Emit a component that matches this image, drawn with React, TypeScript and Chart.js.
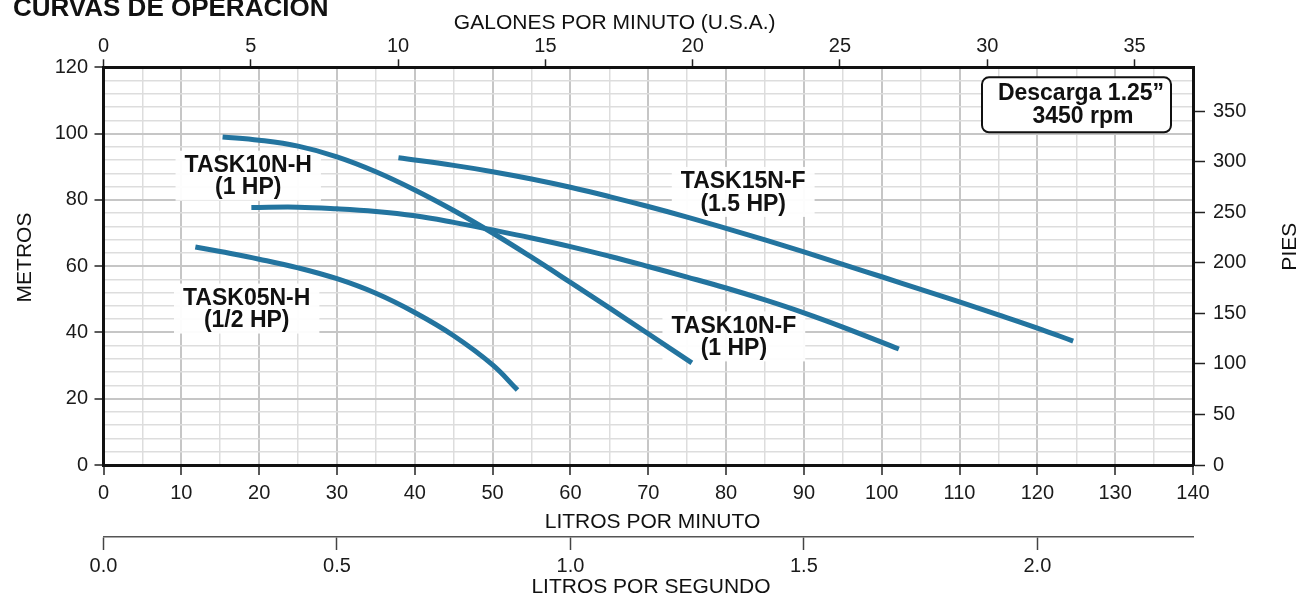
import React, { useEffect, useRef } from 'react';
import { Chart, registerables } from 'chart.js';

Chart.register(...registerables);

const FONT = "'Liberation Sans', Arial, Helvetica, sans-serif";

// Flow in litres per minute, head in metres
const t10hFlow = [15.3, 20, 25, 30, 35, 40, 45, 50, 55, 60, 65, 70, 75.6];
const t10hHead = [99.0, 98.0, 96.2, 93.0, 88.5, 83.0, 76.8, 70.0, 62.7, 55.1, 47.4, 39.6, 30.8];

const t10fFlow = [19, 25, 30, 35, 40, 45, 50, 55, 60, 65, 70, 75, 80, 85, 90, 95, 102.2];
const t10fHead = [77.7, 77.8, 77.3, 76.5, 75.2, 73.2, 70.9, 68.5, 65.9, 63.0, 59.9, 56.7, 53.4, 49.8, 45.9, 41.6, 35.0];

const t15fFlow = [37.9, 45, 50, 55, 60, 65, 70, 75, 80, 85, 90, 96, 100, 105, 110, 115, 120, 124.6];
const t15fHead = [92.7, 90.4, 88.5, 86.3, 83.8, 81.0, 78.0, 74.8, 71.4, 67.9, 64.3, 59.8, 56.8, 53.0, 49.2, 45.3, 41.3, 37.4];

const t05hFlow = [11.8, 15, 20, 25, 30, 35, 40, 45, 50, 53.2];
const t05hHead = [65.8, 64.4, 62.1, 59.5, 56.2, 51.8, 46.0, 39.0, 30.2, 22.6];

// Curve labels (anchored in LPM / metres)
const curveLabels = [
  ['TASK10N-H', '(1 HP)'],
  ['TASK05N-H', '(1/2 HP)'],
  ['TASK15N-F', '(1.5 HP)'],
  ['TASK10N-F', '(1 HP)'],
];
const labelFlow = [18.6, 18.4, 82.2, 81.0];
const labelHead = [87.3, 47.2, 82.4, 38.8];

const infoLines = ['Descarga 1.25\u201D', '3450 rpm'];
const chartTitle = 'CURVAS DE OPERACIÓN';
const titleTop = 'GALONES POR MINUTO (U.S.A.)';
const titleLeft = 'METROS';
const titleRight = 'PIES';
const titleBottom1 = 'LITROS POR MINUTO';
const titleBottom2 = 'LITROS POR SEGUNDO';

const LPM_MAX = 140;
const M_MAX = 120;
const LPM_PER_GPM = 3.785411784;
const FT_PER_M = 3.28084;
const LPM_PER_LPS = 60;

const LINE_COLOR = '#23749f';

const pts = (xs: number[], ys: number[]) => xs.map((x, i) => ({ x, y: ys[i] }));

const tickFont = { family: FONT, size: 20 };
const major = (ctx: any, step: number) =>
  ctx.tick && Math.abs(ctx.tick.value / step - Math.round(ctx.tick.value / step)) < 1e-6;

const textPlugin = {
  id: 'textPlugin',
  beforeDatasetsDraw(chart: any) {
    const { ctx } = chart;
    const x = chart.scales.x;
    const y = chart.scales.y;
    ctx.save();
    ctx.font = `bold 23px ${FONT}`;
    ctx.textAlign = 'center';
    ctx.textBaseline = 'middle';
    curveLabels.forEach((lines, i) => {
      const cx = x.getPixelForValue(labelFlow[i]);
      const cy = y.getPixelForValue(labelHead[i]);
      const w = Math.max(...lines.map((l) => ctx.measureText(l).width)) + 18;
      const h = 50;
      ctx.fillStyle = 'rgba(255,255,255,0.94)';
      ctx.fillRect(cx - w / 2, cy - h / 2, w, h);
      ctx.fillStyle = '#111';
      lines.forEach((l, j) => ctx.fillText(l, cx, cy + (j - 0.5) * 22.5 + 1));
    });
    ctx.restore();
  },
  afterDraw(chart: any) {
    const { ctx, chartArea: ca } = chart;
    ctx.save();
    // info box
    const bw = 189;
    const bh = 55;
    const bx = ca.right - 22 - bw;
    const by = ca.top + 10;
    ctx.beginPath();
    if (ctx.roundRect) ctx.roundRect(bx, by, bw, bh, 7);
    else ctx.rect(bx, by, bw, bh);
    ctx.fillStyle = '#fff';
    ctx.fill();
    ctx.lineWidth = 2;
    ctx.strokeStyle = '#111';
    ctx.stroke();
    ctx.fillStyle = '#111';
    ctx.font = `bold 23px ${FONT}`;
    ctx.textAlign = 'center';
    ctx.textBaseline = 'middle';
    ctx.fillText(infoLines[0], bx + 99, by + 16);
    ctx.fillText(infoLines[1], bx + 101, by + 39);

    // main title (clipped at the top of the picture)
    ctx.textAlign = 'left';
    ctx.textBaseline = 'alphabetic';
    ctx.font = `bold 26px ${FONT}`;
    ctx.fillText(chartTitle, 13, 16);

    // axis titles
    ctx.font = `21px ${FONT}`;
    ctx.textAlign = 'center';
    ctx.textBaseline = 'middle';
    ctx.fillText(titleTop, 614.7, 23);
    ctx.fillText(titleBottom1, 652.5, 522);
    ctx.fillText(titleBottom2, 651, 587.5);

    ctx.save();
    ctx.translate(25, 257.5);
    ctx.rotate(-Math.PI / 2);
    ctx.fillText(titleLeft, 0, 0);
    ctx.restore();

    ctx.save();
    ctx.translate(1290, 246.7);
    ctx.rotate(-Math.PI / 2);
    ctx.fillText(titleRight, 0, 0);
    ctx.restore();

    ctx.restore();
  },
};

export default function App() {
  const ref = useRef<HTMLCanvasElement>(null);

  useEffect(() => {
    if (!ref.current) return;
    const ds = (data: { x: number; y: number }[]) => ({
      data,
      borderColor: LINE_COLOR,
      borderWidth: 5,
      pointRadius: 0,
      pointHoverRadius: 0,
      tension: 0.4,
      borderCapStyle: 'butt' as const,
      borderJoinStyle: 'round' as const,
      fill: false,
    });

    const chart = new Chart(ref.current, {
      type: 'line',
      data: {
        datasets: [
          ds(pts(t10hFlow, t10hHead)),
          ds(pts(t10fFlow, t10fHead)),
          ds(pts(t15fFlow, t15fHead)),
          ds(pts(t05hFlow, t05hHead)),
        ],
      },
      options: {
        responsive: false,
        devicePixelRatio: 1,
        animation: false,
        events: [],
        layout: { padding: { left: 53.5, right: 58, top: 37.3, bottom: 0 } },
        plugins: {
          legend: { display: false },
          tooltip: { enabled: false },
          title: { display: false },
        },
        scales: {
          x: {
            type: 'linear',
            position: 'bottom',
            min: 0,
            max: LPM_MAX,
            weight: 0,
            afterFit: (s: any) => {
              s.height = 72;
            },
            ticks: {
              stepSize: 5,
              autoSkip: false,
              maxRotation: 0,
              includeBounds: false,
              padding: 6,
              font: tickFont,
              color: '#1a1a1a',
              callback: (v: any) => (Number(v) % 10 === 0 ? String(v) : ''),
            },
            grid: {
              color: (ctx: any) => (major(ctx, 10) ? '#c6c6c6' : '#dddddd'),
              lineWidth: (ctx: any) => (major(ctx, 10) ? 2 : 1.5),
              tickColor: (ctx: any) => (major(ctx, 10) ? '#222' : 'rgba(0,0,0,0)'),
              tickLength: 10,
              tickWidth: 1.5,
            },
            border: { display: true, color: '#111', width: 3 },
          },
          lps: {
            type: 'linear',
            position: 'bottom',
            min: 0,
            max: LPM_MAX / LPM_PER_LPS,
            weight: 10,
            afterFit: (s: any) => {
              s.height = 64;
            },
            ticks: {
              stepSize: 0.5,
              autoSkip: false,
              maxRotation: 0,
              includeBounds: false,
              padding: 4,
              font: tickFont,
              color: '#1a1a1a',
              callback: (v: any) => Number(v).toFixed(1),
            },
            grid: { drawOnChartArea: false, tickLength: 13, tickColor: '#444', tickWidth: 1.5 },
            border: { display: true, color: '#555', width: 1.5 },
          },
          xTop: {
            type: 'linear',
            position: 'top',
            min: 0,
            max: LPM_MAX / LPM_PER_GPM,
            afterFit: (s: any) => {
              s.height = 30;
            },
            ticks: {
              stepSize: 5,
              autoSkip: false,
              maxRotation: 0,
              includeBounds: false,
              padding: 1,
              font: tickFont,
              color: '#1a1a1a',
            },
            grid: { drawOnChartArea: false, tickLength: 8, tickColor: '#222', tickWidth: 1.5 },
            border: { display: true, color: '#111', width: 3 },
          },
          y: {
            type: 'linear',
            position: 'left',
            min: 0,
            max: M_MAX,
            afterFit: (s: any) => {
              s.width = 50;
            },
            ticks: {
              stepSize: 4,
              autoSkip: false,
              includeBounds: false,
              padding: 6.5,
              font: tickFont,
              color: '#1a1a1a',
              callback: (v: any) => (Number(v) % 20 === 0 ? String(v) : ''),
            },
            grid: {
              color: (ctx: any) => (major(ctx, 20) ? '#c6c6c6' : '#dddddd'),
              lineWidth: (ctx: any) => (major(ctx, 20) ? 2 : 1.5),
              tickColor: (ctx: any) => (major(ctx, 20) ? '#222' : 'rgba(0,0,0,0)'),
              tickLength: 9,
              tickWidth: 1.5,
            },
            border: { display: true, color: '#111', width: 3 },
          },
          yR: {
            type: 'linear',
            position: 'right',
            min: 0,
            max: M_MAX * FT_PER_M,
            afterFit: (s: any) => {
              s.width = 60;
            },
            ticks: {
              stepSize: 50,
              autoSkip: false,
              includeBounds: false,
              padding: 8,
              font: tickFont,
              color: '#1a1a1a',
            },
            grid: { drawOnChartArea: false, tickLength: 12, tickColor: '#222', tickWidth: 1.5 },
            border: { display: true, color: '#111', width: 3 },
          },
        },
      } as any,
      plugins: [textPlugin],
    });
    return () => chart.destroy();
  }, []);

  return (
    <div style={{ position: 'absolute', left: 0, top: 0, width: 1311, height: 601, background: '#fff' }}>
      <canvas ref={ref} width={1311} height={601} style={{ display: 'block', width: 1311, height: 601 }} />
    </div>
  );
}
